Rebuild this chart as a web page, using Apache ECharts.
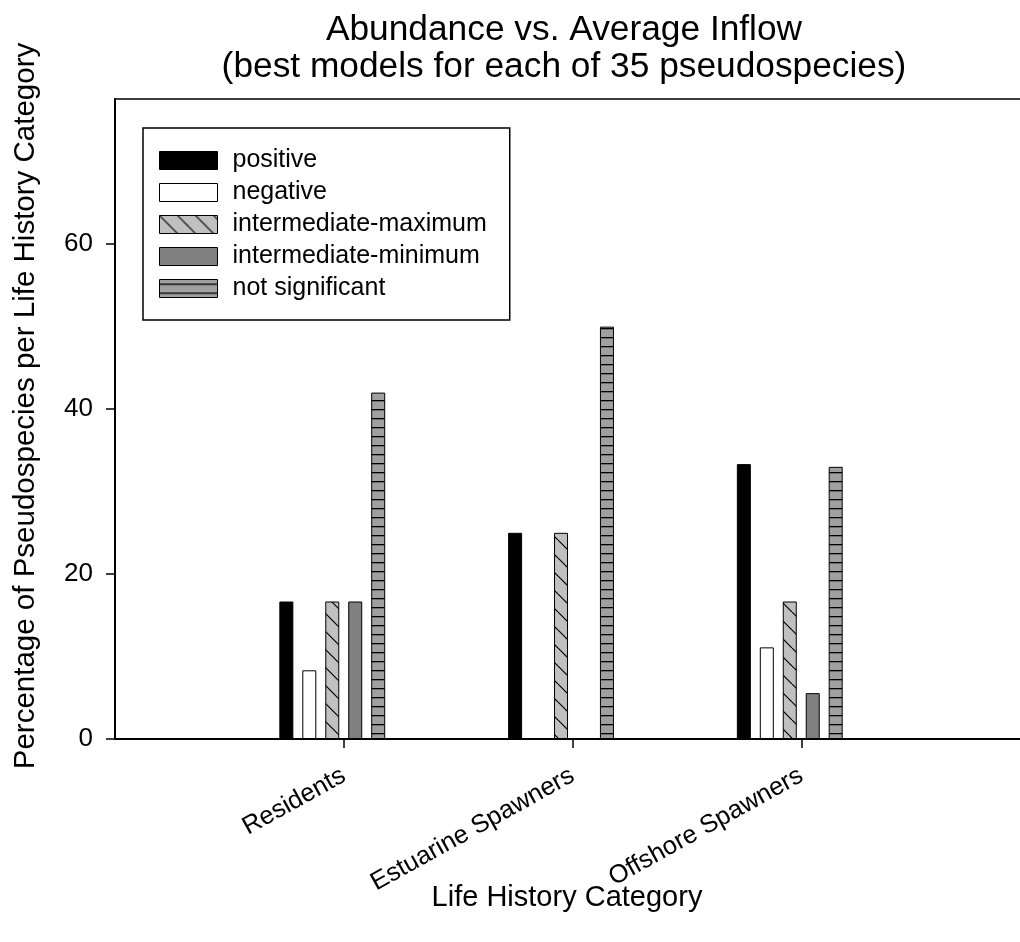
<!DOCTYPE html>
<html>
<head>
<meta charset="utf-8">
<title>Abundance vs. Average Inflow</title>
<script src="https://cdn.jsdelivr.net/npm/echarts@6/dist/echarts.min.js"></script>
<style>
  html, body { margin: 0; padding: 0; background: #fff; }
  #chart { width: 1020px; height: 942px; }
</style>
</head>
<body>
<div id="chart"></div>
<script>
// Life history categories and the share (%) of pseudospecies per response type
const categories = ['Residents', 'Estuarine Spawners', 'Offshore Spawners'];
const positive = [16.67, 25, 33.33];
const negative = [8.33, null, 11.11];
const intermediateMaximum = [16.67, 25, 16.67];
const intermediateMinimum = [16.67, null, 5.56];
const notSignificant = [42, 50, 33];
const yTicks = [0, 20, 40, 60];

const FONT = '"Liberation Sans", Arial, Helvetica, sans-serif';

// Fill patterns
function hatchPattern() {
  const c = document.createElement('canvas');
  c.width = 18; c.height = 18;
  const g = c.getContext('2d');
  g.fillStyle = '#c0c0c0';
  g.fillRect(0, 0, 18, 18);
  g.strokeStyle = '#000';
  g.lineWidth = 1.2;
  [-18, 0, 18].forEach(function (o) {
    g.beginPath();
    g.moveTo(o, 0);
    g.lineTo(o + 18, 18);
    g.stroke();
  });
  return { image: c, repeat: 'repeat' };
}
function stripePattern() {
  const c = document.createElement('canvas');
  c.width = 4; c.height = 9;
  const g = c.getContext('2d');
  g.fillStyle = '#a0a0a0';
  g.fillRect(0, 0, 4, 9);
  g.fillStyle = '#000';
  g.fillRect(0, 4, 4, 1.3);
  return { image: c, repeat: 'repeat' };
}

// Pad the category axis with an empty slot on each side
const pad = function (arr) { return [null].concat(arr, [null]); };
const axisCats = [''].concat(categories, ['']);

function barSeries(name, values, color) {
  return {
    name: name,
    type: 'bar',
    data: pad(values),
    barWidth: 14,
    barGap: '64%',
    itemStyle: { color: color, borderColor: '#000', borderWidth: 1 },
    emphasis: { disabled: true }
  };
}

const chart = echarts.init(document.getElementById('chart'), null, { renderer: 'canvas' });

const option = {
  animation: false,
  backgroundColor: '#fff',
  textStyle: { fontFamily: FONT, color: '#000' },
  grid: {
    left: 115, top: 99, right: -10, bottom: 203,
    containLabel: false, outerBoundsMode: 'none',
    show: true, borderColor: '#000', borderWidth: 1.5, backgroundColor: 'transparent'
  },
  legend: {
    orient: 'vertical',
    left: 143, top: 128,
    padding: [20, 23, 19, 16],
    itemGap: 7,
    itemWidth: 58, itemHeight: 18,
    icon: 'rect',
    borderColor: '#000', borderWidth: 1.5, backgroundColor: '#fff',
    selectedMode: false,
    data: ['positive', 'negative', 'intermediate-maximum', 'intermediate-minimum', 'not significant'],
    textStyle: { fontFamily: FONT, fontSize: 25, color: '#000', lineHeight: 25, padding: [0, 0, 0, 10] },
    itemStyle: { borderColor: '#000', borderWidth: 1 }
  },
  xAxis: {
    type: 'category',
    data: axisCats,
    boundaryGap: false,
    axisLine: { lineStyle: { color: '#000', width: 2 } },
    axisTick: {
      length: 9, lineStyle: { color: '#000', width: 1.5 },
      interval: function (i) { return i >= 1 && i <= categories.length; }
    },
    axisLabel: {
      rotate: 29, margin: 35, fontSize: 25.5, color: '#000', fontFamily: FONT,
      interval: 0
    },
    splitLine: { show: false }
  },
  yAxis: {
    type: 'value',
    min: 0, max: 77.6,
    axisLine: { show: true, lineStyle: { color: '#000', width: 2 } },
    axisTick: { show: true, length: 9, lineStyle: { color: '#000', width: 1.5 }, customValues: yTicks },
    axisLabel: { fontSize: 26, color: '#000', margin: 22, fontFamily: FONT, customValues: yTicks },
    splitLine: { show: false }
  },
  graphic: [
    {
      type: 'text', x: 564, y: 12,
      style: {
        text: 'Abundance vs. Average Inflow\n(best models for each of 35 pseudospecies)',
        fontFamily: FONT, fontSize: 35.3, lineHeight: 37, fill: '#000',
        textAlign: 'center', textVerticalAlign: 'top'
      }
    },
    {
      type: 'text', x: 567, y: 898,
      style: {
        text: 'Life History Category', fontFamily: FONT, fontSize: 29, fill: '#000',
        textAlign: 'center', textVerticalAlign: 'middle'
      }
    },
    {
      type: 'text', x: 26, y: 406, rotation: Math.PI / 2,
      style: {
        text: 'Percentage of Pseudospecies per Life History Category', fontFamily: FONT, fontSize: 29.5, fill: '#000',
        textAlign: 'center', textVerticalAlign: 'middle'
      }
    }
  ],
  series: [
    barSeries('positive', positive, '#000'),
    barSeries('negative', negative, '#fff'),
    barSeries('intermediate-maximum', intermediateMaximum, hatchPattern()),
    barSeries('intermediate-minimum', intermediateMinimum, '#808080'),
    barSeries('not significant', notSignificant, stripePattern()),
    // empty slot that keeps the five bars off-centre from each tick
    barSeries('', [null, null, null], 'transparent')
  ]
};

chart.setOption(option);
</script>
</body>
</html>
